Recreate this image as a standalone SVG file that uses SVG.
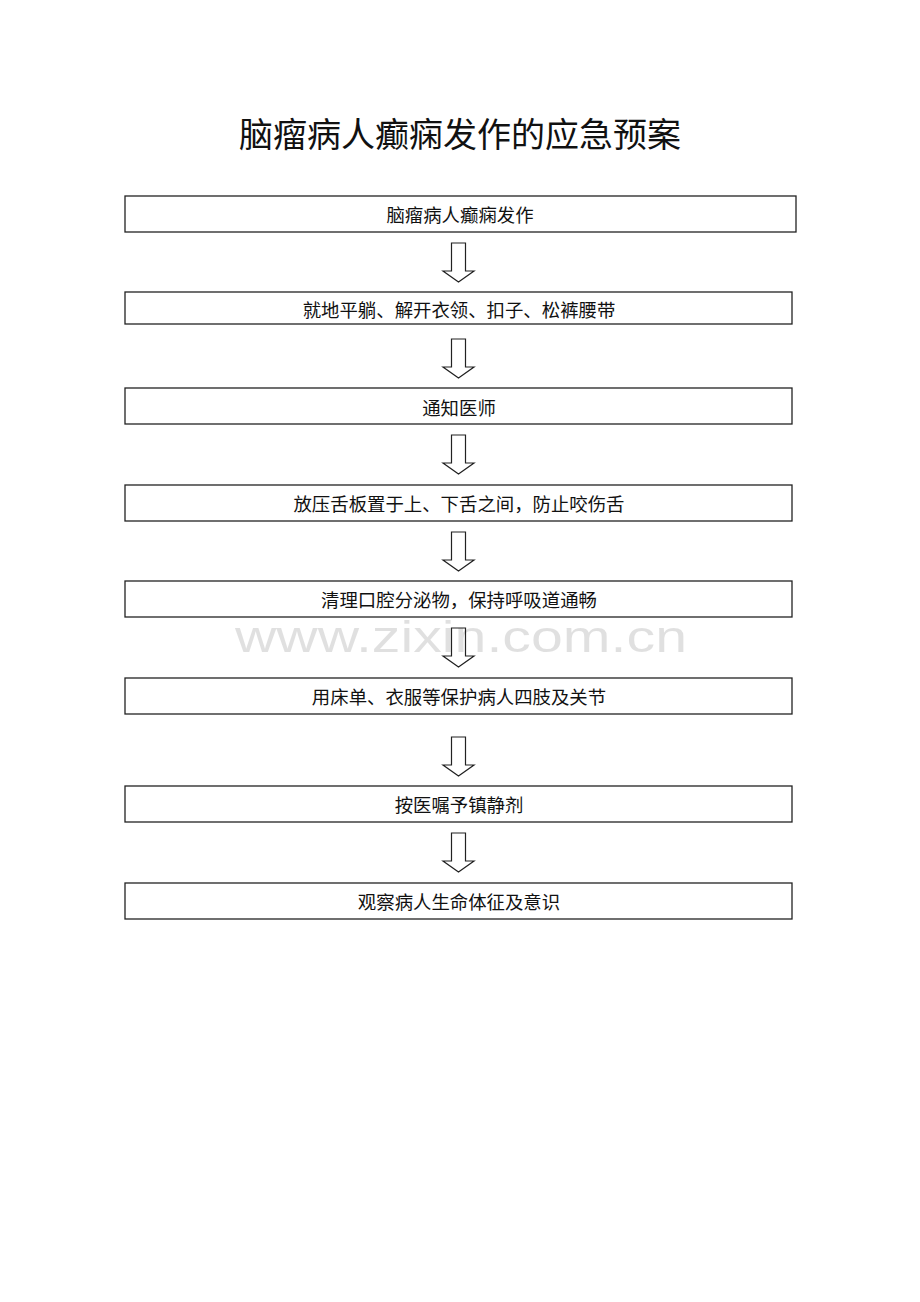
<svg xmlns="http://www.w3.org/2000/svg" width="920" height="1302" viewBox="0 0 920 1302">
<style>
.box{fill:#fff;stroke:#222;stroke-width:1.3}
.lbl{font-family:"Noto Sans CJK SC","Liberation Serif",sans-serif;font-size:18.4px;fill:#111;text-anchor:middle;dominant-baseline:central}
.arr{fill:#fff;stroke:#222;stroke-width:1.2;stroke-linejoin:miter}
.title{font-family:"Noto Sans CJK SC","Liberation Serif",sans-serif;font-size:34px;fill:#111;text-anchor:middle}
.wm{font-family:"Liberation Sans",Arial,sans-serif;font-size:44px;fill:#000;fill-opacity:0.12}
</style>
<defs>
<path id="darrow" d="M-7,0 H7 V28 H15.5 L0,39 L-15.5,28 H-7 Z"/>
</defs>
<rect width="920" height="1302" fill="#fff"/>
<text id="title" class="title" x="460" y="147">脑瘤病人癫痫发作的应急预案</text>
<g id="connectors">
<use href="#darrow" class="arr" x="458.5" y="243"/>
<use href="#darrow" class="arr" x="458.5" y="339"/>
<use href="#darrow" class="arr" x="458.5" y="435"/>
<use href="#darrow" class="arr" x="458.5" y="532"/>
<use href="#darrow" class="arr" x="458.5" y="628"/>
<use href="#darrow" class="arr" x="458.5" y="737"/>
<use href="#darrow" class="arr" x="458.5" y="833"/>
</g>
<g id="n1"><rect class="box" x="125" y="196" width="671" height="36"/><text class="lbl" x="460" y="214">脑瘤病人癫痫发作</text></g>
<g id="n2"><rect class="box" x="125" y="292" width="667" height="32"/><text class="lbl" x="459" y="309">就地平躺、解开衣领、扣子、松裤腰带</text></g>
<g id="n3"><rect class="box" x="125" y="388" width="667" height="36"/><text class="lbl" x="459" y="407">通知医师</text></g>
<g id="n4"><rect class="box" x="125" y="485" width="667" height="36"/><text class="lbl" x="459" y="503">放压舌板置于上、下舌之间，防止咬伤舌</text></g>
<g id="n5"><rect class="box" x="125" y="581" width="667" height="36"/><text class="lbl" x="459" y="599">清理口腔分泌物，保持呼吸道通畅</text></g>
<g id="n6"><rect class="box" x="125" y="678" width="667" height="36"/><text class="lbl" x="459" y="696">用床单、衣服等保护病人四肢及关节</text></g>
<g id="n7"><rect class="box" x="125" y="786" width="667" height="36"/><text class="lbl" x="459" y="804">按医嘱予镇静剂</text></g>
<g id="n8"><rect class="box" x="125" y="883" width="667" height="36"/><text class="lbl" x="459" y="901">观察病人生命体征及意识</text></g>
<text class="wm" x="235" y="652" textLength="452" lengthAdjust="spacingAndGlyphs">www.zixin.com.cn</text>
</svg>
